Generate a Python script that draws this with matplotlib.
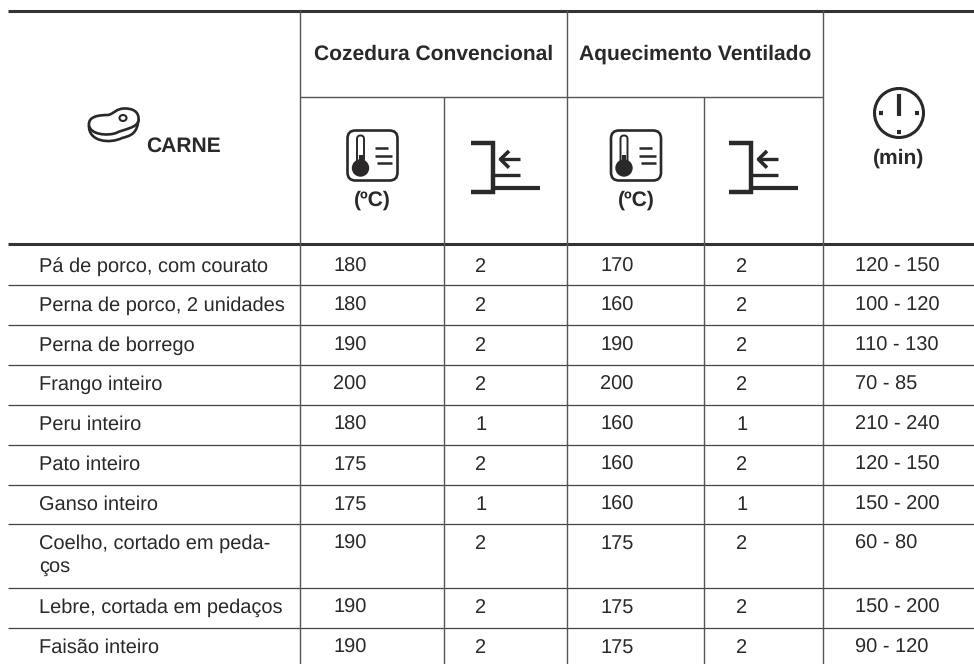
import matplotlib
matplotlib.use("Agg")
import matplotlib.pyplot as plt
from matplotlib.patches import Circle, FancyBboxPatch, Ellipse, PathPatch
from matplotlib.path import Path

foods = ["Pá de porco, com courato", "Perna de porco, 2 unidades", "Perna de borrego",
         "Frango inteiro", "Peru inteiro", "Pato inteiro", "Ganso inteiro",
         "Coelho, cortado em peda-\nços", "Lebre, cortada em pedaços", "Faisão inteiro"]
conv_temp = [180, 180, 190, 200, 180, 175, 175, 190, 190, 190]
conv_level = [2, 2, 2, 2, 1, 2, 1, 2, 2, 2]
vent_temp = [170, 160, 190, 200, 160, 160, 160, 175, 175, 175]
vent_level = [2, 2, 2, 2, 1, 2, 1, 2, 2, 2]
minutes = ["120 - 150", "100 - 120", "110 - 130", "70 - 85", "210 - 240",
           "120 - 150", "150 - 200", "60 - 80", "150 - 200", "90 - 120"]
row_lines = [285, 325, 365, 404.5, 444.5, 484.5, 523.5, 587.5, 627.5]
row_base = [272, 311, 351, 390, 430, 470, 510, 549, 613, 653]

INK = "#2b2829"
GREY = "#555555"
plt.rcParams['font.family'] = ['Liberation Sans', 'DejaVu Sans']
plt.rcParams['text.hinting'] = 'no_hinting'
plt.rcParams['text.hinting_factor'] = 1

fig = plt.figure(figsize=(9.74, 6.64), dpi=100)
ax = fig.add_axes([0, 0, 1, 1])
ax.set_xlim(0, 974)
ax.set_ylim(664, 0)
ax.axis("off")


def hline(y, x0=8, x1=974, lw=1.0, c=GREY):
    ax.plot([x0, x1], [y, y], color=c, lw=lw, solid_capstyle="butt")


def vline(x, y0=10, y1=664, lw=1.0, c=GREY):
    ax.plot([x, x], [y0, y1], color=c, lw=lw, solid_capstyle="butt")


def thermometer(cx, cy):
    ax.add_patch(FancyBboxPatch((cx - 25, cy - 25), 50, 50, boxstyle="round,pad=0,rounding_size=8",
                                fc="white", ec=INK, lw=1.9))
    ax.add_patch(FancyBboxPatch((cx - 15.5, cy - 20), 7, 30, boxstyle="round,pad=0,rounding_size=3.5",
                                fc="white", ec=INK, lw=1.4))
    ax.add_patch(Circle((cx - 12, cy + 12.5), 8.7, fc=INK, ec="none"))
    ax.plot([cx - 12, cx - 12], [cy - 1, cy + 8], color=INK, lw=3, solid_capstyle="butt")
    for dy, x0, x1 in [(-7.5, 2.5, 15.5), (0, 2.5, 19.5), (7, 4.5, 19.5)]:
        ax.plot([cx + x0, cx + x1], [cy + dy, cy + dy], color=INK, lw=1.8, solid_capstyle="butt")


def level_icon(x, y):
    # x, y = left end of the top bracket stroke
    ax.plot([x, x + 22, x + 22, x], [y, y, y + 49, y + 49], color=INK, lw=3.2, solid_joinstyle="miter",
            solid_capstyle="butt")
    ax.plot([x + 22, x + 69], [y + 45.5, y + 45.5], color=INK, lw=3.0, solid_capstyle="butt")
    ax.plot([x + 22, x + 49], [y + 32.5, y + 32.5], color=INK, lw=2.4, solid_capstyle="butt")
    ax.plot([x + 30, x + 49], [y + 16.6, y + 16.6], color=INK, lw=2.4, solid_capstyle="butt")
    ax.plot([x + 38, x + 29.5, x + 38], [y + 8.3, y + 16.6, y + 25], color=INK, lw=2.6, solid_capstyle="butt")


def clock(cx, cy):
    ax.add_patch(Circle((cx, cy), 24.5, fc="white", ec=INK, lw=2.2))
    ax.plot([cx, cx], [cy - 19, cy + 2.7], color=INK, lw=3, solid_capstyle="butt")
    for dx, dy in [(-18, 0), (18, 0), (0, 18.7)]:
        ax.plot([cx + dx - 2, cx + dx + 2], [cy + dy, cy + dy], color=INK, lw=3, solid_capstyle="butt")


def steak():
    under = Path([(89, 125), (88, 142), (110, 144), (122, 138), (130, 136), (138, 134), (138.5, 118)],
                 [Path.MOVETO] + [Path.CURVE4] * 6)
    top = Path([(89, 125), (88, 116), (100, 115), (108, 115),
                (114, 114), (116, 108), (126, 108.5),
                (136, 109), (139, 114), (138.5, 120),
                (138, 128), (124, 129), (116, 133),
                (108, 136), (90, 135), (89, 125)],
               [Path.MOVETO] + [Path.CURVE4] * 15)
    ax.add_patch(PathPatch(under, fc="none", ec=INK, lw=1.9))
    ax.add_patch(PathPatch(top, fc="white", ec=INK, lw=1.9))
    ax.add_patch(Ellipse((123, 118), 7, 6, fc="white", ec=INK, lw=1.5))


# grid
for y in row_lines:
    hline(y, lw=0.9, c="#444444")
hline(11, lw=2.2, c="#333333")
hline(244.3, lw=2.2, c="#333333")
hline(97, x0=300, x1=823, lw=1.0)
vline(300.3)
vline(567.3)
vline(823.3)
vline(444, y0=97)
vline(704.3, y0=97)

# header
head = dict(fontsize=15.4, fontweight="bold", color=INK, ha="center", va="baseline")
ax.text(434, 60, "Cozedura Convencional", **head)
ax.text(695, 60, "Aquecimento Ventilado", **head)
ax.text(183, 152, "CARNE", **head)
ax.text(372.5, 205.5, "(ºC)", **head)
ax.text(636, 205.5, "(ºC)", **head)
ax.text(899, 164, "(min)", **head)

steak()
thermometer(372.5, 155.5)
thermometer(636, 155.5)
level_icon(471, 142.7)
level_icon(729, 142.7)
clock(899, 113)

# rows
cell = dict(fontsize=14.7, color=INK, va="baseline")
for i in range(len(foods)):
    y = row_base[i]
    if "\n" in foods[i]:
        first, second = foods[i].split("\n")
        ax.text(39, y, first, **cell)
        ax.text(39, y + 24, second, **cell)
    else:
        ax.text(39, y, foods[i], **cell)
    ax.text(333, y, str(conv_temp[i]), **cell)
    ax.text(475, y, str(conv_level[i]), **cell)
    ax.text(600, y, str(vent_temp[i]), **cell)
    ax.text(736, y, str(vent_level[i]), **cell)
    ax.text(855, y, minutes[i], **cell)

fig.savefig("out.png", dpi=100)
